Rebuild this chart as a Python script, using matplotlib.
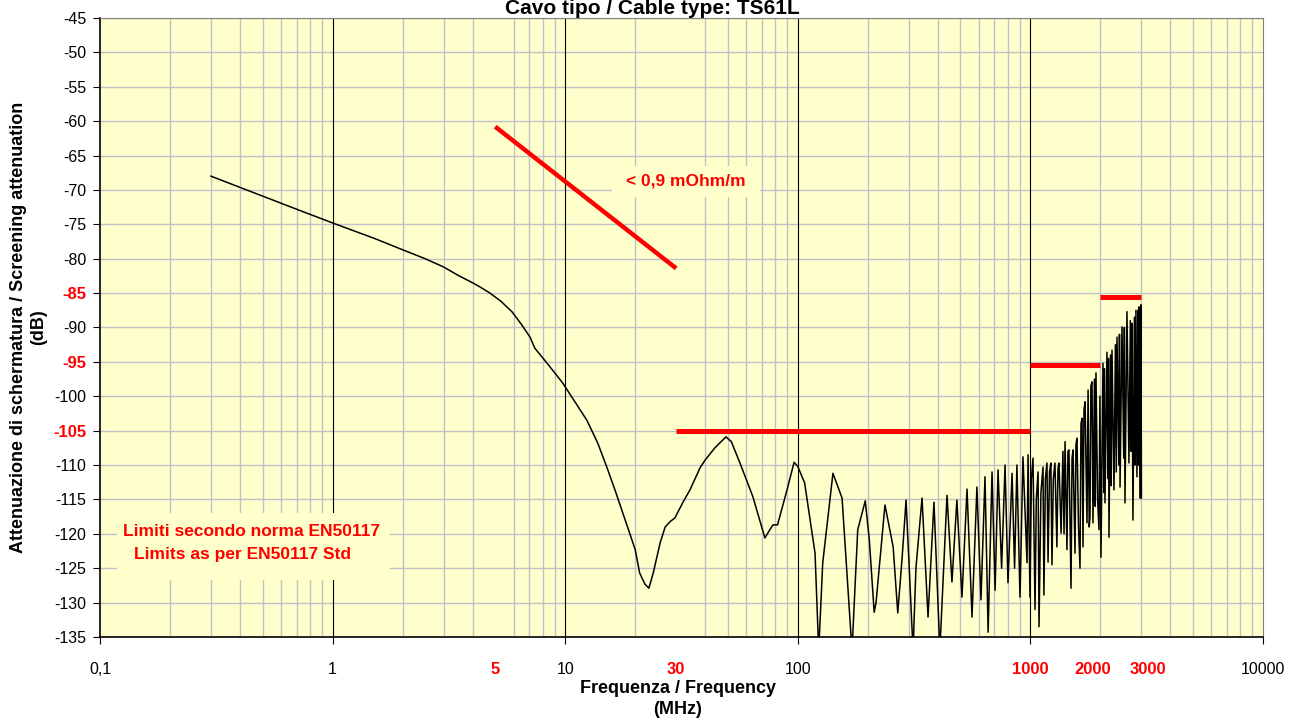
import numpy as np
from matplotlib import pyplot as plt
from matplotlib.patches import Rectangle
from matplotlib.ticker import LogLocator, NullFormatter
from matplotlib.transforms import blended_transform_factory

# misura attenuazione di schermatura
freq_mhz = [0.3, 0.5, 0.7, 1.0, 1.5, 2.0, 2.5, 3.0, 3.5, 4.0, 4.3, 4.75, 5.3, 5.9, 6.5, 7.06, 7.4,
            8.5, 9.77, 11, 12.4, 13.8, 15.1, 16.4, 17.7, 20.0, 20.9, 22.0, 22.9, 23.9, 25.6, 26.9,
            28.3, 29.6, 32.1, 34.4, 38.0, 39.9, 44.0, 49.1, 51.8, 56.4, 64.1, 72.2, 75.5, 78.2,
            81.8, 89.9, 96.4, 100, 107, 118.6, 123, 128, 141.6, 155, 171, 181, 195, 203, 213, 217,
            237, 257, 269, 281, 292, 313, 322, 342, 363, 385, 408, 438, 460, 483, 508, 534, 561,
            589, 613, 638, 658, 684, 705, 726, 752, 778, 801, 834, 855, 875, 902, 929, 967, 977,
            996, 1010, 1026, 1047, 1060, 1079, 1089, 1110, 1133, 1143, 1160, 1178, 1191, 1208,
            1225, 1238, 1255, 1275, 1300, 1314, 1327, 1355, 1380, 1395, 1409, 1436, 1450, 1465,
            1495, 1510, 1525, 1555, 1570, 1586, 1610, 1634, 1650, 1667, 1683, 1700, 1718, 1751,
            1770, 1790, 1804, 1820, 1840, 1858, 1885, 1900, 1914, 1945, 1972, 1990, 2011, 2051,
            2070, 2080, 2092, 2134, 2155, 2165, 2177, 2210, 2225, 2243, 2288, 2320, 2340, 2357,
            2400, 2415, 2429, 2476, 2520, 2535, 2550, 2601, 2653, 2690, 2710, 2731, 2760, 2800,
            2820, 2843, 2871, 2900, 2915, 2929, 2958, 2990, 3000]
att_db = [-68.0, -70.9, -72.8, -74.8, -77.0, -78.7, -80.0, -81.2, -82.5, -83.5, -84.1, -85.0, -86.2,
          -87.7, -89.6, -91.4, -93.0, -95.5, -98.1, -100.8, -103.5, -106.8, -110.3, -113.7, -117.0,
          -122.3, -125.7, -127.3, -127.9, -125.7, -121.3, -119.0, -118.2, -117.7, -115.4, -113.6,
          -110.4, -109.3, -107.5, -105.9, -106.6, -109.7, -114.6, -120.6, -119.5, -118.7, -118.7,
          -113.6, -109.6, -110.2, -112.6, -122.8, -137, -124.2, -111.2, -114.8, -137, -119.4,
          -115.2, -120.9, -131.4, -130.0, -115.8, -121.9, -131.5, -123.4, -115.1, -137, -125.0,
          -114.8, -132.1, -115.4, -137, -114.4, -127.0, -115.1, -129.2, -113.5, -132.1, -113.2,
          -129.6, -111.7, -134.3, -111.0, -128.2, -110.7, -125.0, -110.0, -127.1, -111.2, -125.0,
          -110.0, -129.2, -108.8, -124.2, -108.5,
          -129.2, -112.0, -109.0, -131.0, -115.0, -111.0, -133.5, -114.0, -110.3, -128.9, -112.0,
          -109.7, -124.1, -111.0, -109.7, -124.5, -112.0, -109.7, -121.9, -110.5, -109.7, -119.9,
          -108.0, -120.0, -106.6, -122.3, -108.0, -107.8, -127.9, -109.0, -107.8, -122.8, -107.0,
          -106.1, -119.0, -125.0, -104.0, -103.2, -121.9, -102.0, -100.8, -118.4, -99.1, -119.0,
          -117.5, -98.5, -97.9, -118.4, -97.5, -116.0, -96.6, -115.0, -119.4, -100.0, -123.4,
          -95.2, -114.0, -96.0, -115.5, -93.6, -112.0, -94.5, -120.5, -94.0, -113.0, -93.3,
          -113.6, -92.5, -111.0, -91.4, -110.0, -91.0, -113.2, -89.9, -109.0, -90.0, -115.5,
          -87.7, -109.7, -89.0, -108.0, -89.4, -118.0, -88.5, -110.0, -87.5, -111.7, -87.5,
          -110.0, -87.0, -114.8, -86.7, -114.8]

# limiti EN50117
lim_slope_f = [5, 30]
lim_slope_db = [-60.8, -81.4]
lim_steps = [(30, 1000, -105), (1000, 2000, -95.5), (2000, 3000, -85.5)]

x_ticks = [0.1, 1, 5, 10, 30, 100, 1000, 10000]
x_labels = ['0,1', '1', '5', '10', '30', '100', '1000', '10000']
x_red = [5, 30, 1000]
# etichette 2000 / 3000 un po' spostate come nell'originale
x_extra = [(1850, '2000'), (3200, '3000')]
y_ticks = list(range(-135, -44, 5))
y_red = [-85, -95, -105]

RED = '#FF0000'
BG = '#FFFFCC'
W, H = 1290, 720


def px_box(ax, f, x0, y0, x1, y1):
    # rettangolo di sfondo per le scritte (coordinate pixel della figura)
    r = Rectangle((x0 / W, 1 - y1 / H), (x1 - x0) / W, (y1 - y0) / H,
                  transform=f.transFigure, facecolor=BG, edgecolor='none', zorder=2)
    ax.add_artist(r)


def main():
    plt.rcParams['font.family'] = ['Liberation Sans', 'DejaVu Sans']
    f = plt.figure(figsize=(12.9, 7.2), dpi=100)
    ax = f.add_axes([100 / W, 1 - 637 / H, 1163 / W, 619 / H])
    ax.set_facecolor(BG)
    ax.set_xscale('log')
    ax.set_xlim(0.1, 10000)
    ax.set_ylim(-135, -45)

    # griglia
    ax.xaxis.set_minor_locator(LogLocator(base=10, subs=np.arange(2, 10)))
    ax.xaxis.set_minor_formatter(NullFormatter())
    ax.grid(True, which='minor', axis='x', color='#C0C0C8', lw=1.0, zorder=0)
    ax.grid(True, which='major', axis='y', color='#C0C0C8', lw=1.0, zorder=0)
    for d in [1, 10, 100, 1000]:
        ax.axvline(d, color='black', lw=0.8, zorder=1)
    ax.set_axisbelow(True)

    px_box(ax, f, 612, 166, 760, 197)
    px_box(ax, f, 117, 513, 390, 580)

    ax.plot(freq_mhz, att_db, color='black', lw=1.1, zorder=3)

    ax.plot(lim_slope_f, lim_slope_db, color=RED, lw=3.2, solid_capstyle='butt', zorder=4)
    for f0, f1, lvl in lim_steps:
        ax.plot([f0, f1], [lvl, lvl], color=RED, lw=3.6, solid_capstyle='butt', zorder=4)

    ax.set_xticks(x_ticks)
    ax.set_xticklabels(x_labels)
    ax.set_yticks(y_ticks)
    ax.set_yticklabels(['%d' % v for v in y_ticks])
    ax.tick_params(axis='both', which='major', labelsize=11.5, direction='out', length=5,
                   color='black', pad=5)
    ax.tick_params(axis='x', which='minor', length=0)
    ax.tick_params(axis='x', pad=13)
    for tick, val in zip(ax.xaxis.get_major_ticks(), x_ticks):
        if val in x_red:
            tick.label1.set_color(RED)
            tick.label1.set_fontweight('bold')
            tick.label1.set_fontsize(12)
            if val != 1000:
                tick.tick1line.set_visible(False)
    for tick, val in zip(ax.yaxis.get_major_ticks(), y_ticks):
        if val in y_red:
            tick.label1.set_color(RED)
            tick.label1.set_fontweight('bold')
            tick.label1.set_fontsize(12)

    trans = blended_transform_factory(ax.transData, f.transFigure)
    for xv, lab in x_extra:
        ax.text(xv, 1 - 669 / H, lab, transform=trans, color=RED, fontsize=12,
                fontweight='bold', ha='center', va='center', clip_on=False)

    for side in ['top', 'right']:
        ax.spines[side].set_color('#808080')
    for side in ['left', 'bottom']:
        ax.spines[side].set_color('black')
        ax.spines[side].set_linewidth(1.2)

    f.text(678 / W, 1 - 699 / H, 'Frequenza / Frequency\n(MHz)', ha='center', va='center',
           fontsize=13, fontweight='bold', linespacing=1.25)
    f.text(29 / W, 1 - 327 / H, 'Attenuazione di schermatura / Screening attenuation\n(dB)',
           ha='center', va='center', rotation=90, fontsize=13, fontweight='bold',
           linespacing=1.25)

    f.text(652 / W, 1 - 14 / H, 'Cavo tipo / Cable type: TS61L', ha='center', va='baseline',
           fontsize=15, fontweight='bold')

    ax.text(33, -68.7, '< 0,9 mOhm/m', color=RED, fontsize=12.5, fontweight='bold',
            ha='center', va='center', zorder=5)
    ax.text(0.45, -119.6, 'Limiti secondo norma EN50117', color=RED, fontsize=12.5,
            fontweight='bold', ha='center', va='center', zorder=5)
    ax.text(0.41, -123.0, 'Limits as per EN50117 Std', color=RED, fontsize=12.5,
            fontweight='bold', ha='center', va='center', zorder=5)

    plt.savefig('out.png', dpi=100)
    plt.close()


if __name__ == '__main__':
    main()
